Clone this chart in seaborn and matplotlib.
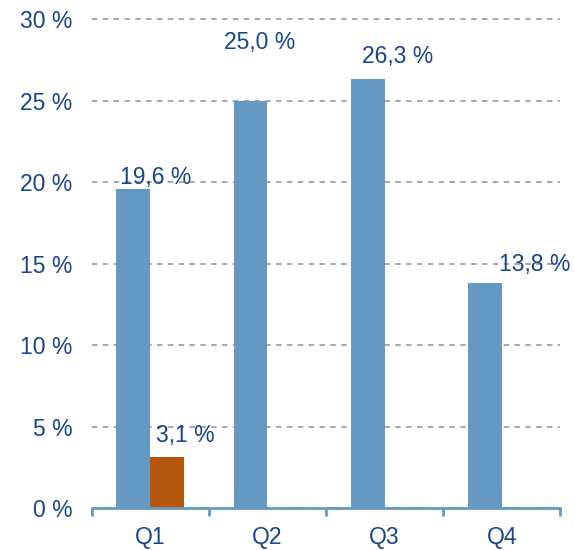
import matplotlib
matplotlib.use("Agg")
import matplotlib.pyplot as plt
import pandas as pd
import seaborn as sns

# values
quarters = ["Q1", "Q2", "Q3", "Q4"]
series_main = [19.6, 25.0, 26.3, 13.8]
series_second_quarters = ["Q1"]
series_second = [3.1]
y_ticks = [0, 5, 10, 15, 20, 25, 30]

# label placement tweaks in pixels (dx, dy) from top centre of each bar
offsets_main = [(22, 11), (9, 58), (30, 23), (50, 19)]
offsets_second = [(18, 22)]

BLUE = "#6699c2"
ORANGE = "#b5560a"
TEXT = "#17468c"
FS = 16.5

df = pd.concat([
    pd.DataFrame({"quarter": quarters, "value": series_main, "series": "main"}),
    pd.DataFrame({"quarter": series_second_quarters, "value": series_second, "series": "second"}),
])

sns.set_style("white")
plt.rcParams["font.family"] = ["Liberation Sans", "DejaVu Sans"]

fig = plt.figure(figsize=(5.74, 5.5), dpi=100)
ax = fig.add_axes([0.160, 0.0764, 0.816, 0.9036])

sns.barplot(data=df, x="quarter", y="value", hue="series", order=quarters,
            hue_order=["main", "second"], palette=[BLUE, ORANGE],
            width=0.58, dodge=True, errorbar=None, saturation=1, linewidth=0,
            ax=ax, legend=False)

ax.set_ylim(0, 30.5)
ax.set_xlim(-0.5, 3.5)
ax.set_yticks(y_ticks)
ax.set_yticklabels([f"{t} %" for t in y_ticks], color=TEXT, fontsize=FS)
ax.tick_params(axis="y", left=False, length=0, pad=14)
ax.set_xticks(range(len(quarters)))
ax.set_xticklabels(quarters, color=TEXT, fontsize=FS)
ax.set_xticks([i - 0.5 for i in range(len(quarters) + 1)], minor=True)
ax.tick_params(axis="x", which="major", bottom=True, length=0, pad=13)
ax.tick_params(axis="x", which="minor", bottom=True, length=6, width=2,
               color=BLUE, direction="out")
ax.set_xlabel("")
ax.set_ylabel("")

for s in ["top", "right", "left"]:
    ax.spines[s].set_visible(False)
ax.spines["bottom"].set_color(BLUE)
ax.spines["bottom"].set_linewidth(2)

ax.yaxis.grid(True, linestyle=(0, (3, 3)), color="#a0a0a0", linewidth=1.3)
ax.set_axisbelow(True)

for container, offs in zip(ax.containers, [offsets_main, offsets_second]):
    bars = [b for b in container if b.get_height() == b.get_height() and b.get_height() > 0]
    for bar, (dx, dy) in zip(bars, offs):
        h = bar.get_height()
        ax.annotate(f"{h:.1f} %".replace(".", ","),
                    (bar.get_x() + bar.get_width() / 2, h),
                    xytext=(dx, dy), textcoords="offset pixels",
                    ha="center", va="center", color=TEXT, fontsize=FS,
                    annotation_clip=False)

fig.savefig("out.png", dpi=100)
